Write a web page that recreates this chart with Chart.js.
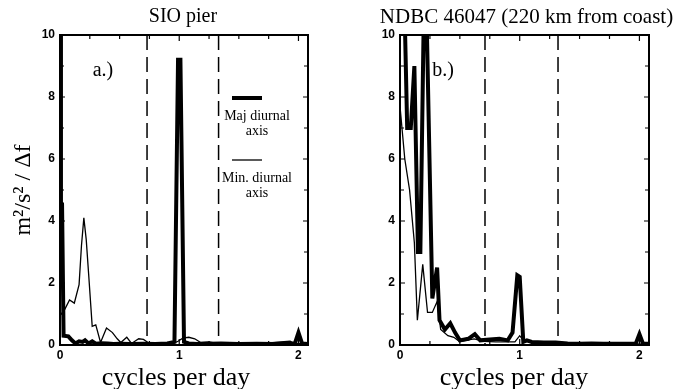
<!DOCTYPE html>
<html>
<head>
<meta charset="utf-8">
<title>Diurnal wind spectra</title>
<script src="https://cdn.jsdelivr.net/npm/chart.js"></script>
<style>
  html, body { margin: 0; padding: 0; background: #fff; }
  #wrap { position: relative; width: 689px; height: 389px; overflow: hidden; }
  #chartA { position: absolute; left: 0; top: 0; }
  #chartB { position: absolute; left: 340px; top: 0; }
</style>
</head>
<body>
<div id="wrap">
  <canvas id="chartA" width="340" height="389"></canvas>
  <canvas id="chartB" width="349" height="389"></canvas>
</div>
<script>
/* ── spectra of major / minor diurnal axes ── */

// a.) SIO pier
const freqMajA = [0, 0.008, 0.017, 0.03, 0.07, 0.1, 0.13, 0.16, 0.19, 0.21, 0.24, 0.27, 0.3, 0.35, 0.4, 0.45, 0.5, 0.6, 0.7, 0.8, 0.9, 0.96, 0.99, 1.01, 1.04, 1.08, 1.15, 1.25, 1.35, 1.5, 1.65, 1.8, 1.9, 1.97, 2.0, 2.03, 2.08];
const majA     = [12, 2.3, 4.6, 0.3, 0.28, 0.15, 0.05, 0.12, 0.1, 0.15, 0.05, 0.12, 0.04, 0.06, 0.05, 0.03, 0.04, 0.03, 0.04, 0.03, 0.05, 0.1, 9.2, 9.2, 0.1, 0.05, 0.03, 0.04, 0.05, 0.03, 0.04, 0.03, 0.05, 0.05, 0.4, 0.05, 0.03];
const freqMinA = [0, 0.04, 0.08, 0.12, 0.16, 0.18, 0.2, 0.22, 0.24, 0.27, 0.3, 0.34, 0.39, 0.44, 0.48, 0.51, 0.56, 0.6, 0.66, 0.7, 0.75, 0.85, 0.95, 0.99, 1.03, 1.08, 1.13, 1.18, 1.25, 1.35, 1.5, 1.65, 1.8, 1.93, 1.97, 2.0, 2.04, 2.08];
const minA     = [0.95, 1.15, 1.45, 1.35, 1.95, 3.2, 4.1, 3.4, 2.3, 0.6, 0.65, 0.08, 0.55, 0.4, 0.2, 0.08, 0.25, 0.05, 0.2, 0.18, 0.05, 0.04, 0.05, 0.12, 0.22, 0.25, 0.2, 0.08, 0.1, 0.03, 0.04, 0.03, 0.08, 0.12, 0.03, 0.05, 0.03, 0.03];

// b.) NDBC 46047
const freqMajB = [0, 0.04, 0.06, 0.09, 0.12, 0.15, 0.17, 0.2, 0.22, 0.27, 0.31, 0.33, 0.375, 0.42, 0.46, 0.5, 0.57, 0.625, 0.67, 0.75, 0.83, 0.9, 0.94, 0.98, 1.0, 1.03, 1.06, 1.1, 1.2, 1.3, 1.4, 1.5, 1.6, 1.7, 1.8, 1.9, 1.97, 2.0, 2.03, 2.08];
const majB     = [12, 10.5, 7.0, 7.0, 9.0, 3.0, 3.0, 11, 11, 1.5, 2.5, 0.8, 0.5, 0.7, 0.4, 0.15, 0.2, 0.35, 0.15, 0.18, 0.2, 0.15, 0.4, 2.25, 2.2, 0.1, 0.15, 0.1, 0.08, 0.08, 0.05, 0.04, 0.05, 0.04, 0.04, 0.04, 0.05, 0.35, 0.04, 0.04];
const freqMinB = [0, 0.04, 0.08, 0.12, 0.145, 0.19, 0.23, 0.27, 0.31, 0.34, 0.4, 0.45, 0.5, 0.55, 0.62, 0.7, 0.8, 0.9, 0.96, 1.0, 1.03, 1.1, 1.2, 1.4, 1.6, 1.8, 2.08];
const minB     = [7.7, 6.0, 5.0, 3.3, 0.8, 2.6, 1.05, 1.05, 1.4, 0.5, 0.3, 0.25, 0.1, 0.15, 0.2, 0.12, 0.1, 0.1, 0.1, 0.3, 0.15, 0.1, 0.08, 0.05, 0.04, 0.04, 0.03];

// dashed frequency bounds
const dashA = [0.73, 1.33];
const dashB = [0.71, 1.32];

// axis ticks
const xTicks = [0, 0.25, 0.5, 0.75, 1, 1.25, 1.5, 1.75, 2];
const yTicks = [0, 1, 2, 3, 4, 5, 6, 7, 8, 9, 10];

const serif = "'Liberation Serif', 'DejaVu Serif', serif";
const sans = "'Liberation Sans', Arial, sans-serif";

const pts = (xs, ys) => xs.map((x, i) => ({ x, y: ys[i] }));

// frame + inward ticks on all four sides
const boxTicks = {
  id: 'boxTicks',
  afterDatasetsDraw(chart) {
    const { ctx, chartArea: a, scales: { x, y } } = chart;
    ctx.save();
    ctx.strokeStyle = '#000';
    ctx.lineWidth = 1.2;
    ctx.beginPath();
    x.ticks.forEach(t => {
      const px = x.getPixelForValue(t.value);
      const len = Number.isInteger(t.value) ? 6 : 4;
      ctx.moveTo(px, a.bottom); ctx.lineTo(px, a.bottom - len);
      ctx.moveTo(px, a.top); ctx.lineTo(px, a.top + len);
    });
    y.ticks.forEach(t => {
      const py = y.getPixelForValue(t.value);
      const len = t.value % 2 === 0 ? 5 : 4;
      ctx.moveTo(a.left, py); ctx.lineTo(a.left + len, py);
      ctx.moveTo(a.right, py); ctx.lineTo(a.right - len, py);
    });
    ctx.stroke();
    ctx.lineWidth = 2;
    ctx.strokeRect(a.left, a.top, a.right - a.left, a.bottom - a.top);
    ctx.restore();
  }
};

// panel title, letter, x-axis caption and the hand-drawn key
const notes = {
  id: 'notes',
  afterDraw(chart, args, o) {
    const { ctx, chartArea: a } = chart;
    const mid = (a.left + a.right) / 2;
    ctx.save();
    ctx.fillStyle = '#000';
    ctx.strokeStyle = '#000';
    ctx.textAlign = 'center';
    ctx.textBaseline = 'middle';
    ctx.font = `${o.titleSize}px ${serif}`;
    ctx.fillText(o.title, mid + o.titleShift, 17);
    ctx.font = `20px ${serif}`;
    ctx.fillText(o.label, a.left + 43, a.top + 36);
    ctx.textBaseline = 'alphabetic';
    ctx.font = `26px ${serif}`;
    ctx.fillText('cycles per day', a.left + o.xTitleAt, chart.height - 4);
    ctx.textBaseline = 'middle';
    (o.key || []).forEach((k, i) => {
      const ly = a.top + 63 + i * 62;
      ctx.lineWidth = k.width;
      ctx.beginPath();
      ctx.moveTo(a.left + 172, ly);
      ctx.lineTo(a.left + 202, ly);
      ctx.stroke();
      ctx.font = `14px ${serif}`;
      k.text.forEach((s, j) => ctx.fillText(s, a.left + 197, ly + 18 + j * 15));
    });
    ctx.restore();
  }
};

function makePanel(id, p) {
  const tickFont = { family: sans, size: 12, weight: 'bold' };
  return new Chart(document.getElementById(id), {
    type: 'line',
    data: {
      datasets: [
        ...p.dash.map(d => ({
          data: [{ x: d, y: 10 }, { x: d, y: 0 }],
          borderColor: '#000', borderWidth: 1.5, borderDash: [15, 7]
        })),
        { label: 'Min. diurnal axis', data: pts(p.fMin, p.min), borderColor: '#000', borderWidth: 1.3 },
        { label: 'Maj diurnal axis', data: pts(p.fMaj, p.maj), borderColor: '#000', borderWidth: 4 }
      ]
    },
    options: {
      responsive: false,
      animation: false,
      events: [],
      datasets: { line: { clip: 0 } },
      elements: {
        point: { radius: 0 },
        line: { tension: 0, fill: false, borderCapStyle: 'butt' }
      },
      layout: { padding: { left: 0, right: p.padRight, top: 35, bottom: 0 } },
      scales: {
        x: {
          type: 'linear', min: 0, max: 2.08,
          afterBuildTicks: s => { s.ticks = xTicks.map(v => ({ value: v })); },
          afterFit: s => { s.height = 44; },
          grid: { display: false, drawTicks: false },
          border: { display: false },
          ticks: {
            padding: 3, maxRotation: 0, autoSkip: false, color: '#000', font: tickFont,
            callback: v => Number.isInteger(v) ? String(v) : ''
          }
        },
        y: {
          type: 'linear', min: 0, max: 10,
          afterBuildTicks: s => { s.ticks = yTicks.map(v => ({ value: v })); },
          afterFit: s => { s.width = 60; },
          grid: { display: false, drawTicks: false },
          border: { display: false },
          ticks: {
            padding: 5, autoSkip: false, color: '#000', font: tickFont,
            callback: v => v % 2 === 0 ? String(v) : ''
          },
          title: {
            display: p.yTitle, text: 'm²/s² / Δf', color: '#000',
            font: { family: serif, size: 24, lineHeight: 1 }, padding: { top: 12, bottom: 0 }
          }
        }
      },
      plugins: {
        legend: { display: false },
        tooltip: { enabled: false },
        title: { display: false },
        notes: {
          title: p.title, titleSize: p.titleSize, titleShift: p.titleShift,
          label: p.label, key: p.key, xTitleAt: p.xTitleAt
        }
      }
    },
    plugins: [boxTicks, notes]
  });
}

makePanel('chartA', {
  title: 'SIO pier', titleSize: 20, titleShift: -1, label: 'a.)', yTitle: true, padRight: 32, xTitleAt: 116,
  fMaj: freqMajA, maj: majA, fMin: freqMinA, min: minA, dash: dashA,
  key: [
    { text: ['Maj diurnal', 'axis'], width: 4 },
    { text: ['Min. diurnal', 'axis'], width: 1.3 }
  ]
});

makePanel('chartB', {
  title: 'NDBC 46047 (220 km from coast)', titleSize: 21, titleShift: 2, label: 'b.)', yTitle: false, padRight: 40, xTitleAt: 114,
  fMaj: freqMajB, maj: majB, fMin: freqMinB, min: minB, dash: dashB
});
</script>
</body>
</html>
